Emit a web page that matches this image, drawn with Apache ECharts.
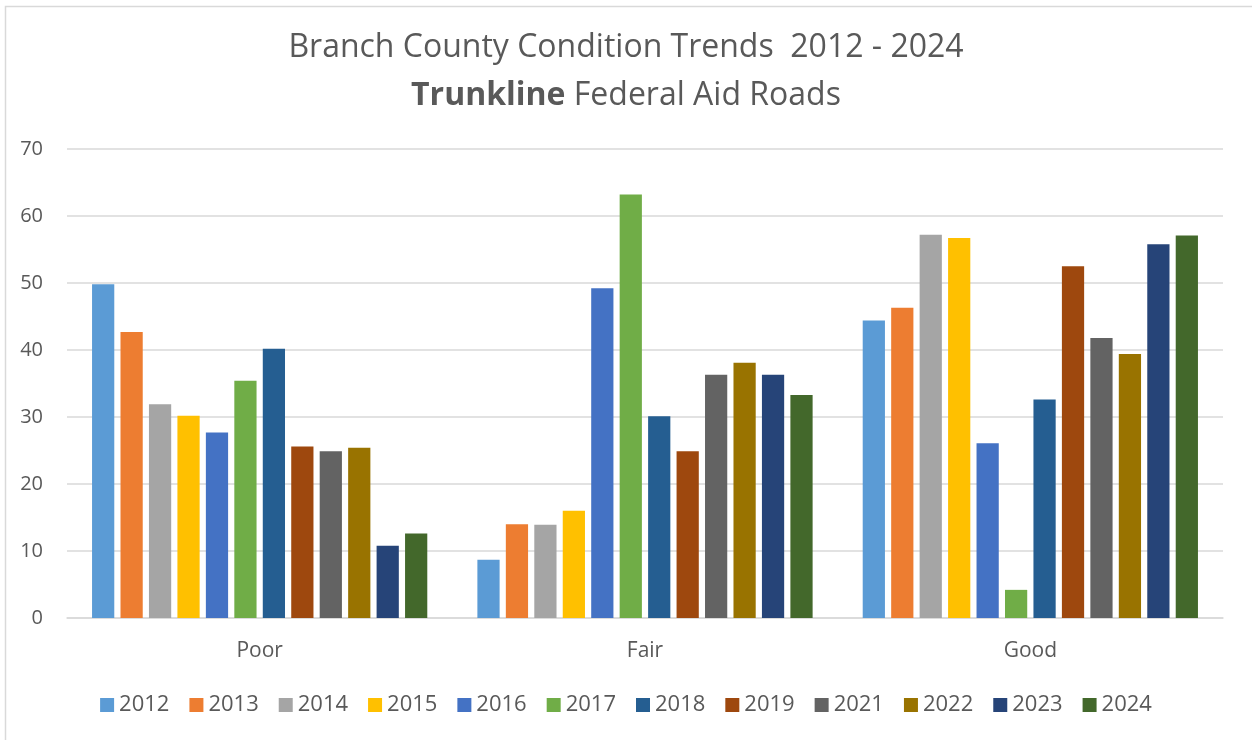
<!DOCTYPE html>
<html>
<head>
<meta charset="utf-8">
<script src="https://cdn.jsdelivr.net/npm/echarts@6/dist/echarts.min.js"></script>
<style>
  html, body { margin: 0; padding: 0; background: #ffffff; }
  #chart { width: 1252px; height: 740px; }
</style>
</head>
<body>
<div id="chart"></div>
<script>
// Road condition categories
const categories = ['Poor', 'Fair', 'Good'];

// Share of trunkline federal-aid roads in each condition, by year
const years = ['2012', '2013', '2014', '2015', '2016', '2017', '2018', '2019', '2021', '2022', '2023', '2024'];
const v2012 = [49.8, 8.7, 44.4];
const v2013 = [42.7, 14.0, 46.3];
const v2014 = [31.9, 13.9, 57.2];
const v2015 = [30.2, 16.0, 56.7];
const v2016 = [27.7, 49.2, 26.1];
const v2017 = [35.4, 63.2, 4.2];
const v2018 = [40.2, 30.1, 32.6];
const v2019 = [25.6, 24.9, 52.5];
const v2021 = [24.9, 36.3, 41.8];
const v2022 = [25.4, 38.1, 39.4];
const v2023 = [10.8, 36.3, 55.8];
const v2024 = [12.6, 33.3, 57.1];
const yearValues = [v2012, v2013, v2014, v2015, v2016, v2017, v2018, v2019, v2021, v2022, v2023, v2024];

const yearColors = ['#5B9BD5', '#ED7D31', '#A5A5A5', '#FFC000', '#4472C4', '#70AD47',
                    '#255E91', '#9E480E', '#636363', '#997300', '#264478', '#43682B'];

const FONT = '"Open Sans", "Noto Sans", sans-serif';
const TEXT = '#595959';

const chart = echarts.init(document.getElementById('chart'), null, { renderer: 'canvas' });

const series = years.map((y, i) => ({
  name: y,
  type: 'bar',
  data: yearValues[i],
  itemStyle: { color: yearColors[i] },
  barGap: '28%',
  barCategoryGap: '13%'
}));

chart.setOption({
  backgroundColor: '#ffffff',
  animation: false,
  color: yearColors,
  graphic: [{
    type: 'rect',
    left: 3, top: 4,
    shape: { width: 1260, height: 760 },
    style: { fill: 'none', stroke: '#d9d9d9', lineWidth: 1.5 },
    silent: true
  }],
  title: {
    left: 'center',
    top: 19,
    text: '{n|Branch County Condition Trends  2012 - 2024}\n{b|Trunkline}{n| Federal Aid Roads}',
    textStyle: {
      fontWeight: 'normal',
      rich: {
        n: { fontFamily: FONT, fontSize: 32, color: TEXT, fontWeight: 'normal', lineHeight: 48 },
        b: { fontFamily: FONT, fontSize: 32, color: TEXT, fontWeight: 'bold', lineHeight: 48 }
      }
    }
  },
  legend: {
    bottom: 19,
    left: 'center',
    itemWidth: 14,
    itemHeight: 14,
    itemGap: 20,
    icon: 'rect',
    textStyle: { fontFamily: FONT, fontSize: 22, color: TEXT },
    data: years
  },
  grid: { left: 67, right: 29, top: 149, bottom: 122, containLabel: false },
  xAxis: {
    type: 'category',
    data: categories,
    axisLine: { lineStyle: { color: '#d9d9d9', width: 1.5 } },
    axisTick: { show: false },
    axisLabel: { fontFamily: FONT, fontSize: 21, color: TEXT, margin: 23 }
  },
  yAxis: {
    type: 'value',
    min: 0, max: 70, interval: 10,
    axisLine: { show: false },
    axisTick: { show: false },
    axisLabel: { fontFamily: FONT, fontSize: 20, color: TEXT, margin: 24 },
    splitLine: { lineStyle: { color: '#d9d9d9', width: 1.5 } }
  },
  series: series
});
</script>
</body>
</html>
